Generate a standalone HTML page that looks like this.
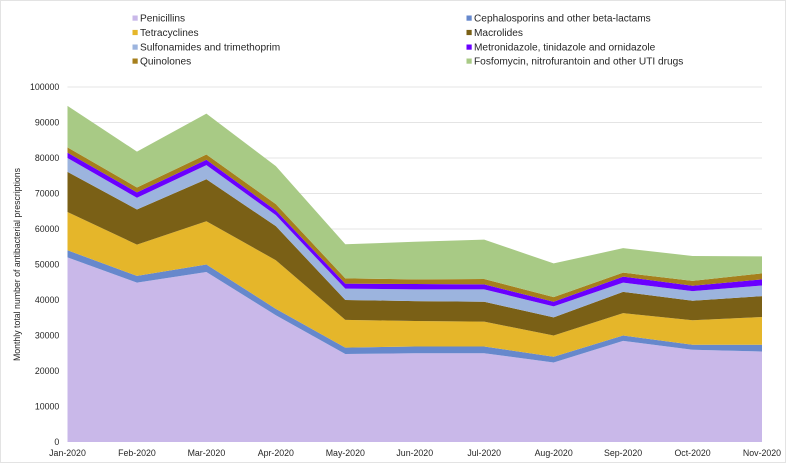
<!DOCTYPE html>
<html lang="en">
<head>
<meta charset="utf-8">
<title>Monthly antibacterial prescriptions</title>
<style>
html,body{margin:0;padding:0;background:#fff;}
body{width:787px;height:464px;overflow:hidden;}
svg{display:block;font-family:"Liberation Sans",Arial,sans-serif;}
</style>
</head>
<body>
<svg id="chart" width="787" height="464" viewBox="0 0 787 464" xmlns="http://www.w3.org/2000/svg">
<rect x="0.5" y="0.5" width="785" height="462" fill="#fff" stroke="#e3e3e3" stroke-width="1"/>
<g id="grid"></g>
<g id="areas"></g>
<g id="yticks"></g>
<g id="xticks"></g>
<text transform="translate(20,264.5) rotate(-90)" text-anchor="middle" font-size="8.75" fill="#262626">Monthly total number of antibacterial prescriptions</text>
<g id="legend"></g>
</svg>
<script>
const categories = ["Jan-2020","Feb-2020","Mar-2020","Apr-2020","May-2020","Jun-2020","Jul-2020","Aug-2020","Sep-2020","Oct-2020","Nov-2020"];
const yTicks = [0,10000,20000,30000,40000,50000,60000,70000,80000,90000,100000];
const seriesNames = ["Penicillins","Cephalosporins and other beta-lactams","Tetracyclines","Macrolides","Sulfonamides and trimethoprim","Metronidazole, tinidazole and ornidazole","Quinolones","Fosfomycin, nitrofurantoin and other UTI drugs"];
const seriesColors = ["#c9b8e9","#6688cc","#e5b62a","#7a6016","#9cb4de","#6a00ff","#a67f1c","#a8ca85"];
const penicillins = [52000,44900,47900,35700,24800,25000,25000,22400,28500,26000,25500];
const cephalosporins = [2000,1900,2100,1800,1800,1900,1900,1600,1500,1400,1900];
const tetracyclines = [10800,8800,12200,13700,7800,7200,7000,6000,6300,6900,7800];
const macrolides = [11300,9900,11800,9600,5600,5600,5600,5100,6000,5500,5900];
const sulfonamides = [3900,3300,4000,3100,3200,3300,3500,3100,2600,2700,3000];
const metronidazole = [1500,1500,1500,1300,1400,1500,1400,1300,1700,1500,1700];
const quinolones = [1500,1400,1500,1800,1500,1300,1500,1300,1100,1400,1700];
const fosfomycin = [11700,10100,11500,10700,9600,10600,11100,9500,6900,7000,4800];
const seriesValues = [penicillins,cephalosporins,tetracyclines,macrolides,sulfonamides,metronidazole,quinolones,fosfomycin];

const NS = "http://www.w3.org/2000/svg";
const left = 67.5, right = 762, top0 = 87, bottom = 442, yMax = 100000;
function xScale(i){ return left + i * (right - left) / (categories.length - 1); }
function yScale(v){ return bottom - v / yMax * (bottom - top0); }
function make(tag, attrs, parent, txt){
  const el = document.createElementNS(NS, tag);
  for (const k in attrs) el.setAttribute(k, attrs[k]);
  if (txt !== undefined) el.textContent = txt;
  parent.appendChild(el);
  return el;
}
const grid = document.getElementById("grid");
const yG = document.getElementById("yticks");
yTicks.forEach(function(t){
  if (t > 0) {
    const line = make("line", {x1:left, x2:right, y1:yScale(t), y2:yScale(t), stroke:"#e4e4e4", "stroke-width":1}, grid);
    
    
  }
  const label = make("text", {x:59.3, y:yScale(t)+3.2, "text-anchor":"end", "font-size":8.8, fill:"#262626"}, yG, String(t));
  
  
});
const xG = document.getElementById("xticks");
categories.forEach(function(c,i){
  const label = make("text", {x:xScale(i), y:456, "text-anchor":"middle", "font-size":8.8, fill:"#262626"}, xG, c);
  
  
});
const areas = document.getElementById("areas");
let base = categories.map(function(){ return 0; });
seriesValues.forEach(function(vals,s){
  const tops = vals.map(function(v,i){ return base[i] + v; });
  const upper = tops.map(function(v,i){ return xScale(i) + "," + yScale(v); });
  const lower = base.map(function(v,i){ return xScale(i) + "," + yScale(v); }).reverse();
  const poly = make("polygon", {points:upper.concat(lower).join(" "), fill:seriesColors[s]}, areas);
  
  
  base = tops;
});
const legend = document.getElementById("legend");
const legendRowY = [18, 32.4, 47, 61];
seriesNames.forEach(function(n,s){
  const col = s % 2, row = Math.floor(s / 2);
  const lx = col === 0 ? 132.5 : 466.5;
  const swatch = make("rect", {x:lx, y:legendRowY[row]-2.5, width:5.2, height:5.2, fill:seriesColors[s]}, legend);
  
  
  const label = make("text", {x:lx+7.5, y:legendRowY[row]+3.6, "font-size":10.15, fill:"#262626"}, legend, n);
  
  
});
</script>
</body>
</html>
